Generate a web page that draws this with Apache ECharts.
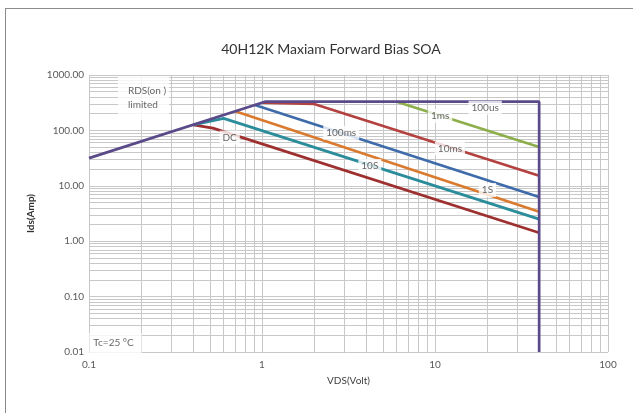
<!DOCTYPE html>
<html><head><meta charset="utf-8">
<script src="https://cdn.jsdelivr.net/npm/echarts@6/dist/echarts.min.js"></script>
<style>html,body{margin:0;padding:0;background:#fff}#c{width:633px;height:416px}</style>
</head><body><div id="c"></div>
<script>
// ---- data (VDS in volts, Ids in amps) ----
const seriesNames = ['DC', '10S', '1S', '100ms', '10ms', '1ms', '100us'];
const dcData    = [[0.4, 126], [0.52, 110], [40, 1.42]];
const s10Data   = [[0.4, 126], [0.6, 165], [40, 2.5]];
const s1Data    = [[0.7, 221], [40, 3.4]];
const ms100Data = [[0.91, 288], [40, 6.3]];
const ms10Data  = [[1.0, 316], [2.0, 300], [40, 15.2]];
const ms1Data   = [[6.0, 330], [40, 50]];
const us100Data = [[0.1, 31.6], [1.04, 330], [40, 330], [40, 0.01]];
const seriesColors = ['#9E2F2F', '#2B8C9C', '#DA7A2E', '#3E6BAA', '#B3413F', '#8DAF4B', '#5B4A8A'];

const curveLabels = ['DC', '10S', '1S', '100ms', '10ms', '1ms', '100us'];
const curveLabelX = [0.65, 4.2, 20.1, 2.87, 12.2, 10.7, 19.5];
const curveLabelY = [74, 22.8, 8.4, 90.8, 47.5, 182, 257];

const xTickLabels = ['0.1', '1', '10', '100'];
const yTickLabels = ['0.01', '0.10', '1.00', '10.00', '100.00', '1000.00'];

const titleText = '40H12K Maxiam Forward Bias SOA';
const xName = 'VDS(Volt)';
const yName = 'Ids(Amp)';
const rdsNote = 'RDS(on )\nlimited';
const tcNote = 'Tc=25 °C';

// ---- build ----
const FONT = 'Lato';
const dataList = [dcData, s10Data, s1Data, ms100Data, ms10Data, ms1Data, us100Data];

const gridX = [], gridY = [];
[0.1, 1, 10].forEach(d => { for (let k = 1; k <= 9; k++) gridX.push(+(d * k).toPrecision(3)); });
gridX.push(100);
[0.01, 0.1, 1, 10, 100].forEach(d => { for (let k = 1; k <= 9; k++) gridY.push(+(d * k).toPrecision(3)); });
gridY.push(1000);

const series = [];
series.push({
  type: 'line', name: 'grid', data: [], silent: true, z: 1, animation: false,
  markLine: {
    z: 1, silent: true, symbol: ['none', 'none'], animation: false, label: { show: false },
    lineStyle: { color: '#c8c8c8', width: 1, type: 'solid' },
    emphasis: { disabled: true },
    data: gridX.map(v => ({ xAxis: v })).concat(gridY.map(v => ({ yAxis: v })))
  }
});
dataList.forEach((d, i) => {
  series.push({
    type: 'line', name: seriesNames[i], data: d, showSymbol: false, symbol: 'none',
    lineStyle: { width: 2.7, color: seriesColors[i] }, itemStyle: { color: seriesColors[i] },
    z: 10 + i, animation: false, silent: true
  });
});
series.push({
  type: 'scatter', name: 'labels', z: 30, symbolSize: 1, animation: false, silent: true,
  itemStyle: { color: 'rgba(0,0,0,0)' },
  data: curveLabels.map((t, i) => [curveLabelX[i], curveLabelY[i], t]),
  label: {
    show: true, position: 'inside', formatter: p => p.data[2],
    backgroundColor: '#fff', padding: [2, 3, 2, 3],
    fontFamily: FONT, fontSize: 10, color: '#404040'
  }
});
series.push({
  type: 'scatter', name: 'rds', z: 30, symbolSize: 1, animation: false, silent: true,
  itemStyle: { color: 'rgba(0,0,0,0)' },
  data: [[0.147, 385]],
  label: {
    show: true, position: 'inside', align: 'left', verticalAlign: 'middle',
    formatter: rdsNote, backgroundColor: '#fff', padding: [10, 3, 6, 10], lineHeight: 14,
    fontFamily: FONT, fontSize: 10, color: '#404040'
  }
});
series.push({
  type: 'scatter', name: 'tc', z: 30, symbolSize: 1, animation: false, silent: true,
  itemStyle: { color: 'rgba(0,0,0,0)' },
  data: [[0.1005, 0.0145]],
  label: {
    show: true, position: 'inside', align: 'left', verticalAlign: 'middle',
    formatter: tcNote, backgroundColor: '#fff', padding: [5, 8, 5, 4],
    fontFamily: FONT, fontSize: 10, color: '#404040'
  }
});

const chart = echarts.init(document.getElementById('c'), null, { renderer: 'canvas' });
chart.setOption({
  animation: false,
  backgroundColor: '#fff',
  title: {
    text: titleText, left: 326, top: 37, textAlign: 'center',
    textStyle: { fontFamily: FONT, fontSize: 14, fontWeight: 'normal', color: '#333' }
  },
  grid: { left: 89, right: 25, top: 75, bottom: 64, containLabel: false },
  xAxis: {
    type: 'log', logBase: 10, min: 0.1, max: 100,
    name: xName, nameLocation: 'middle', nameGap: 24,
    nameTextStyle: { fontFamily: FONT, fontSize: 10, color: '#404040' },
    axisLine: { show: false }, axisTick: { show: false }, splitLine: { show: false },
    axisLabel: {
      fontFamily: FONT, fontSize: 10, color: '#595959', margin: 8,
      formatter: v => xTickLabels[Math.round(Math.log10(v)) + 1] || ''
    }
  },
  yAxis: {
    type: 'log', logBase: 10, min: 0.01, max: 1000,
    name: yName, nameLocation: 'middle', nameGap: 47,
    nameTextStyle: { fontFamily: FONT, fontSize: 10, color: '#333', fontWeight: 'bold' },
    axisLine: { show: false }, axisTick: { show: false }, splitLine: { show: false },
    axisLabel: {
      fontFamily: FONT, fontSize: 10, color: '#595959', margin: 5,
      formatter: v => yTickLabels[Math.round(Math.log10(v)) + 2] || ''
    }
  },
  graphic: [
    { type: 'line', shape: { x1: 5, y1: 8.5, x2: 633, y2: 8.5 }, style: { stroke: '#8c8c8c', lineWidth: 1 }, silent: true },
    { type: 'line', shape: { x1: 5.5, y1: 8, x2: 5.5, y2: 413 }, style: { stroke: '#8c8c8c', lineWidth: 1 }, silent: true }
  ],
  series: series
});
</script></body></html>
